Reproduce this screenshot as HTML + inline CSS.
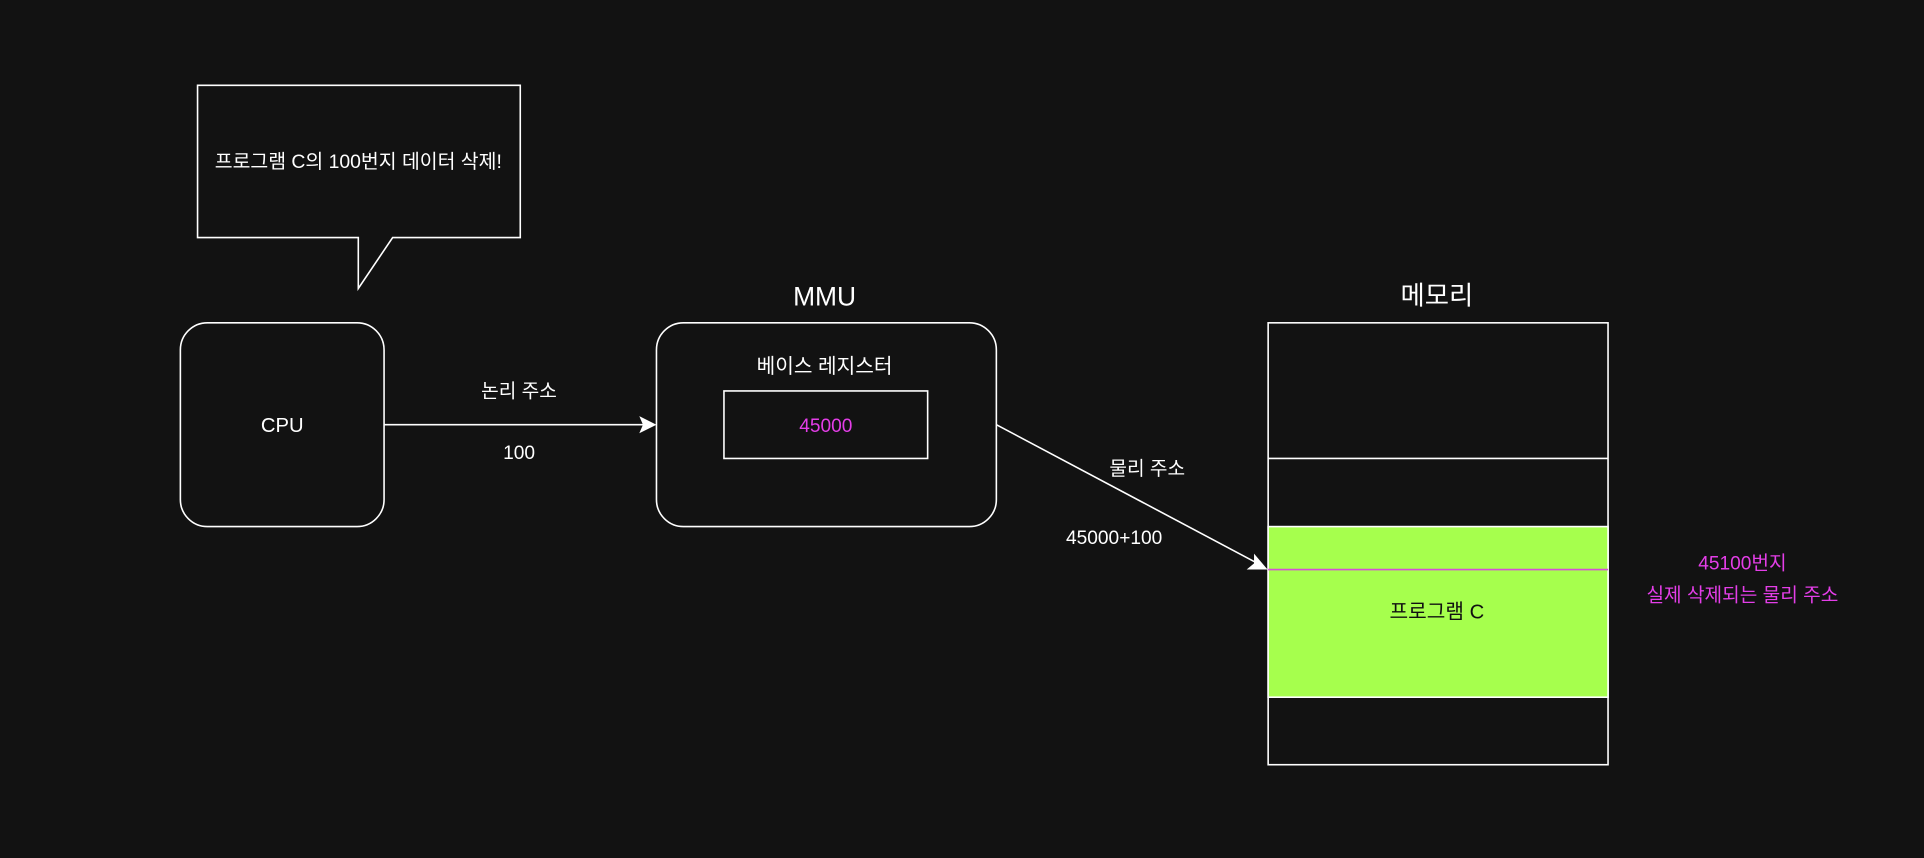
<!DOCTYPE html>
<html><head><meta charset="utf-8"><style>
html,body{margin:0;padding:0;background:#121212;}
svg{display:block}
text{font-family:"Liberation Sans","Noto Sans CJK KR",sans-serif;}
</style></head><body>
<svg width="1924" height="858" viewBox="0 0 1568 699" preserveAspectRatio="none" xmlns="http://www.w3.org/2000/svg">
<rect width="1568" height="699" fill="#121212"/>
<path d="M161 69.5 H424 V193.5 H320 L292 235 V193.5 H161 Z" fill="#121212" stroke="#fff" stroke-width="1.3"/>
<text x="292" y="137" fill="#fff" font-size="15.8" text-anchor="middle">프로그램 C의 100번지 데이터 삭제!</text>
<rect x="147" y="263" width="166" height="166" rx="22" fill="#121212" stroke="#fff" stroke-width="1.3"/>
<text x="230" y="352" fill="#fff" font-size="16.5" text-anchor="middle">CPU</text>
<line x1="313" y1="346" x2="526" y2="346" stroke="#fff" stroke-width="1.3"/>
<path d="M535 346 L521 339 L524 346 L521 353 Z" fill="#fff"/>
<text x="423" y="324" fill="#fff" font-size="15.6" text-anchor="middle">논리 주소</text>
<text x="423" y="374" fill="#fff" font-size="15.6" text-anchor="middle">100</text>
<text x="672" y="249" fill="#fff" font-size="21.5" text-anchor="middle">MMU</text>
<rect x="535" y="263" width="277" height="166" rx="22" fill="#121212" stroke="#fff" stroke-width="1.3"/>
<text x="672" y="304" fill="#fff" font-size="16.5" text-anchor="middle">베이스 레지스터</text>
<rect x="590" y="318.5" width="166" height="55" fill="#121212" stroke="#fff" stroke-width="1.3"/>
<text x="673" y="352" fill="#e43ee8" font-size="15.6" text-anchor="middle">45000</text>
<line x1="812" y1="346" x2="1025" y2="459" stroke="#fff" stroke-width="1.3"/>
<path d="M1033 464 L1022 451 L1022 459 L1016 464 Z" fill="#fff"/>
<text x="935" y="387" fill="#fff" font-size="15.6" text-anchor="middle">물리 주소</text>
<text x="908" y="443" fill="#fff" font-size="15.6" text-anchor="middle">45000+100</text>
<text x="1171" y="248" fill="#fff" font-size="21.5" text-anchor="middle">메모리</text>
<rect x="1033.5" y="263" width="277" height="360" fill="#121212" stroke="#fff" stroke-width="1.3"/>
<rect x="1033.5" y="429" width="277" height="139" fill="#a6ff4d" stroke="#fff" stroke-width="1.3"/>
<line x1="1033.5" y1="373.5" x2="1310.5" y2="373.5" stroke="#fff" stroke-width="1.3"/>
<line x1="1033.5" y1="464" x2="1310.5" y2="464" stroke="#d64fd6" stroke-width="1.3"/>
<text x="1171" y="504" fill="#111" font-size="16.5" text-anchor="middle">프로그램 C</text>
<text x="1420" y="464" fill="#e43ee8" font-size="15.6" text-anchor="middle">45100번지</text>
<text x="1420" y="490" fill="#e43ee8" font-size="15.6" text-anchor="middle">실제 삭제되는 물리 주소</text>
</svg>
</body></html>
